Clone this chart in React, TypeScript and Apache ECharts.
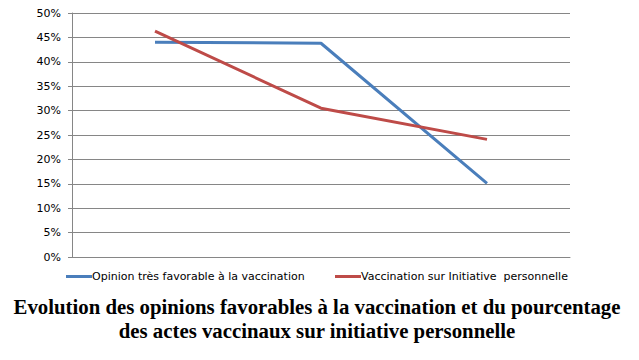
import React, { useEffect, useRef } from "react";
import * as echarts from "echarts";

const categories = ["1", "2", "3"];
const opinionValues = [44.0, 43.8, 15.1];
const initiativeValues = [46.3, 30.5, 24.1];
const seriesNames = ["Opinion très favorable à la vaccination", "Vaccination sur Initiative  personnelle"];
const titleLines = [
  "Evolution des opinions favorables à la vaccination et du pourcentage",
  "des actes vaccinaux sur initiative personnelle",
];

export default function App() {
  const ref = useRef<HTMLDivElement>(null);
  useEffect(() => {
    const chart = echarts.init(ref.current!, null, { renderer: "svg" });
    const legendText = { fontFamily: "DejaVu Sans", fontSize: 11, color: "#000", padding: [0, 0, 0, -5] };
    chart.setOption({
      animation: false,
      backgroundColor: "#ffffff",
      graphic: titleLines.map((t, i) => ({
        type: "text",
        x: 317,
        y: 306 + i * 24,
        style: {
          text: t,
          fontFamily: "Liberation Serif",
          fontWeight: "bold",
          fontSize: 20.8,
          fill: "#000",
          textAlign: "center",
          textVerticalAlign: "middle",
        },
      })),
      legend: [
        {
          data: [seriesNames[0]],
          left: 61,
          top: 266,
          icon: "rect",
          itemWidth: 26,
          itemHeight: 3,
          itemGap: 0,
          textStyle: legendText,
        },
        {
          data: [seriesNames[1]],
          left: 330,
          top: 266,
          icon: "rect",
          itemWidth: 26,
          itemHeight: 3,
          itemGap: 0,
          textStyle: legendText,
        },
      ],
      grid: { left: 72, right: 69, top: 13, bottom: 103 },
      xAxis: {
        type: "category",
        data: categories,
        boundaryGap: true,
        axisLine: { lineStyle: { color: "#868686", width: 1 } },
        axisTick: { show: false },
        axisLabel: { show: false },
      },
      yAxis: {
        type: "value",
        min: 0,
        max: 50,
        interval: 5,
        axisLine: { show: true, lineStyle: { color: "#868686", width: 1 } },
        axisTick: { show: true, length: 4, lineStyle: { color: "#868686" } },
        splitLine: { lineStyle: { color: "#868686", width: 1 } },
        axisLabel: {
          formatter: "{value}%",
          fontFamily: "DejaVu Sans",
          fontSize: 11,
          color: "#000",
          margin: 11,
        },
      },
      series: [
        {
          name: seriesNames[0],
          type: "line",
          data: opinionValues,
          symbol: "none",
          lineStyle: { color: "#4a7ebb", width: 3 },
          itemStyle: { color: "#4a7ebb" },
        },
        {
          name: seriesNames[1],
          type: "line",
          data: initiativeValues,
          symbol: "none",
          lineStyle: { color: "#be4b48", width: 3 },
          itemStyle: { color: "#be4b48" },
        },
      ],
    });
    return () => chart.dispose();
  }, []);
  return <div ref={ref} style={{ width: 639, height: 360, position: "absolute", left: 0, top: 0 }} />;
}
